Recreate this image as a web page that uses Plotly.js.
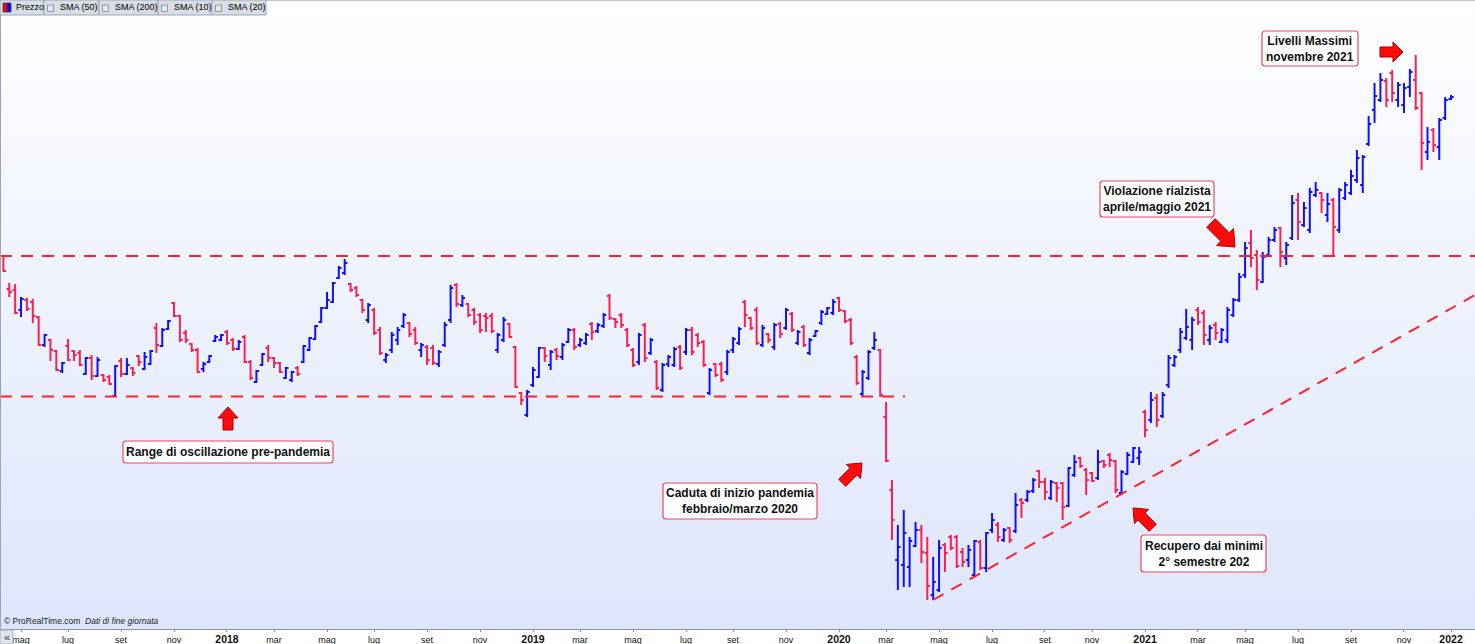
<!DOCTYPE html>
<html><head><meta charset="utf-8">
<script src="https://cdn.plot.ly/plotly-3.0.1.min.js"></script>
<style>
html,body{margin:0;padding:0;background:#fff;overflow:hidden;}
#wrap{position:relative;width:1475px;height:644px;background:linear-gradient(to bottom,#ffffff 0px,#f3f6fe 200px,#dee6fc 629px,#ffffff 629px,#ffffff 644px);}
#chart{width:1475px;height:644px;}
</style></head><body><div id="wrap"><div id="chart"></div></div>
<script>
// Weekly bars, first week starting 2017-04-10 (arbitrary price units, no y scale shown)
const firstWeek = '2017-04-10';
const open = [
444,411,410,390,400,398,383,355,360,349, 329,354,349,347,326,342,324,325,323,304,
339,326,332,344,331,336,372,354,371,397, 384,367,356,350,331,338,359,360,368,360,
351,363,338,318,335,352,342,337,322,320, 332,338,350,361,378,392,398,422,427,416,
412,400,380,390,370,340,350,360,374,377, 370,350,353,352,336,355,380,415,395,396,
390,385,384,384,350,360,376,353,307,285, 315,323,352,335,350,343,358,370,355,357,
376,369,374,404,381,385,370,350,338,375, 347,338,310,336,335,353,348,370,365,358,
307,336,336,328,350,357,398,382,390,355, 366,353,376,372,386,357,373,347,364,377,
386,387,402,389,380,343,306,322,352,350, 283,210,140,135,133,154,170,147,105,110,
155,163,163,148,140,125,158,132,170,175, 160,172,169,200,200,209,229,218,202,217,
217,194,225,242,230,227,222,239,245,239, 207,226,238,242,288,280,302,284,315,335,
350,362,360,390,387,360,375,358,360,385, 400,425,457,445,418,445,460,472,442,462,
500,475,470,505,507,485,500,470,502,507, 520,515,556,590,600,619,627,600,595,613,
620,607,548,570,553,582,601];
const high = [
445,417,416,403,402,401,384,366,361,350, 338,361,350,350,343,345,343,326,325,335,
342,342,333,345,348,350,377,372,380,398, 385,370,357,352,338,345,365,366,370,362,
360,365,340,330,347,355,343,338,333,329, 334,355,363,375,393,408,418,434,441,417,
414,401,397,392,373,347,368,373,387,378, 373,357,355,355,350,378,415,417,405,397,
392,387,387,387,367,383,377,354,308,310, 333,353,353,350,352,357,372,372,362,367,
378,377,387,406,382,387,372,352,367,377, 362,340,337,345,353,355,372,373,367,360,
332,337,338,350,363,373,400,383,393,375, 367,377,378,392,388,370,375,362,370,390,
393,401,403,390,382,345,330,350,368,351, 298,220,175,190,163,178,175,163,143,160,
157,165,165,152,155,160,160,168,187,178, 172,173,207,202,210,222,230,222,220,218,
218,233,245,243,232,228,250,240,247,240, 230,248,253,253,290,308,306,308,345,345,
372,391,383,393,390,375,378,372,393,402, 427,458,470,450,448,463,473,473,458,505,
507,498,512,518,508,507,502,512,518,530, 550,545,584,617,627,622,630,618,617,631,
645,608,573,572,582,603,605];
const low = [
428,403,386,383,389,377,354,353,339,329, 327,339,339,334,325,320,323,318,315,303,
323,325,324,334,330,335,347,353,370,383, 358,357,348,327,328,337,358,359,355,349,
350,337,320,317,334,338,332,327,321,318, 324,337,349,360,377,391,397,421,425,408,
403,387,377,365,345,337,347,355,372,363, 355,343,335,335,333,353,377,393,393,383,
375,367,368,367,347,358,362,312,295,283, 313,322,338,330,340,340,357,350,353,355,
360,367,372,380,372,372,353,333,335,338, 345,310,308,333,333,330,345,345,353,333,
305,323,318,325,347,355,373,370,355,353, 357,350,362,370,368,355,353,345,363,375,
385,385,388,377,355,315,304,320,350,303, 238,160,110,113,113,153,137,100,100,108,
128,150,132,133,133,123,130,128,167,158, 158,157,167,182,198,207,212,200,200,198,
180,193,223,232,205,218,220,232,233,207, 205,225,237,235,263,277,273,282,312,333,
347,360,350,375,355,355,360,357,357,383, 398,422,433,410,417,443,458,433,435,460,
460,473,467,503,487,478,443,467,500,505, 517,507,554,577,598,593,598,593,587,603,
590,530,540,548,540,580,600];
const close = [
429,408,387,401,391,384,355,365,350,330, 337,340,345,335,342,324,340,320,316,334,
326,335,327,338,343,349,355,370,379,384, 360,360,350,328,336,344,363,365,357,351,
358,338,322,329,346,342,337,328,332,328, 326,354,362,374,392,400,417,432,437,410,
405,390,395,367,347,345,365,370,385,366, 357,355,340,337,348,375,412,396,402,385,
378,370,382,369,365,380,363,313,300,308, 330,352,344,348,344,355,370,353,360,365,
368,375,385,382,378,375,355,335,365,342, 360,312,335,343,351,332,370,348,357,335,
330,325,320,348,361,371,385,372,357,372, 360,375,366,390,370,368,355,360,369,388,
392,398,390,379,357,317,328,348,360,305, 239,180,153,167,159,170,148,114,118,152,
147,152,134,138,150,159,132,167,180,163, 170,160,195,197,208,220,218,208,218,212,
193,232,238,234,220,219,238,235,240,210, 228,245,252,248,270,300,280,305,342,343,
368,373,380,378,365,372,367,370,390,400, 423,452,442,420,443,460,470,448,455,497,
478,492,508,510,500,496,473,510,515,524, 542,543,576,604,620,600,607,615,612,628,
592,557,558,555,580,600,603];

const tickVals = ['2017-05-01','2017-06-26','2017-08-28','2017-10-30','2018-01-01','2018-02-26','2018-04-30','2018-06-25','2018-08-27','2018-10-29','2018-12-31','2019-02-25','2019-04-29','2019-07-01','2019-08-26','2019-10-28','2019-12-30','2020-02-24','2020-04-27','2020-06-29','2020-08-31','2020-10-26','2020-12-28','2021-03-01','2021-04-26','2021-06-28','2021-08-30','2021-11-01','2021-12-27'];
const tickLabels = ['mag','lug','set','nov','2018','mar','mag','lug','set','nov','2019','mar','mag','lug','set','nov','2020','mar','mag','lug','set','nov','2021','mar','mag','lug','set','nov','2022'];

// reference levels (same price units)
const rangeTop = 444;
const rangeBottom = 303.5;
const trendStart = {x:'2020-04-19 19:00', y:100};
const trendEnd = {x:'2022-01-24 12:00', y:405};
const rangeBottomEnd = '2020-03-17 12:00';

const notes = [
  {text:'Range di oscillazione pre-pandemia', box:[123,441,333,463]},
  {text:'Caduta di inizio pandemia<br>febbraio/marzo 2020', box:[663,483,817,519]},
  {text:'Recupero dai minimi<br>2° semestre 202', box:[1141,535,1266,572]},
  {text:'Violazione rialzista<br>aprile/maggio 2021', box:[1100,181,1214,217]},
  {text:'Livelli Massimi<br>novembre 2021', box:[1262,31,1358,66]}
];
const arrows = [
  [228,407,-90,23,11,10,5],
  [862,463,-45,28,12,10,5],
  [1133,508,-135,28,12,10,5],
  [1235,247,45,34,14,12,6],
  [1403,52,0,23,10,10,5]
];
const legendItems = ['Prezzo','SMA (50)','SMA (200)','SMA (10)','SMA (20)'];
const legendCells = [[0,44],[44,99],[99,158],[158,212],[212,266]];

// ---------------------------------------------------------------
const dates = [];
{
  const t0 = Date.parse(firstWeek + 'T00:00:00Z');
  for (let i = 0; i < open.length; i++) dates.push(new Date(t0 + i*7*86400000).toISOString().slice(0,10));
}

const W = 1475, H = 629;
const px = x => x / W, py = y => 1 - y / H;
const P = (x, y) => px(x).toFixed(5) + ',' + py(y).toFixed(5);
function poly(pts){ return 'M' + pts.map(p => P(p[0], p[1])).join(' L') + ' Z'; }
function arrowPath(tx, ty, ang, L, hl, hw, sw){
  const a = ang*Math.PI/180, c = Math.cos(a), s = Math.sin(a);
  const loc = [[0,0],[-hl,-hw],[-hl,-sw],[-L,-sw],[-L,sw],[-hl,sw],[-hl,hw]];
  return poly(loc.map(([u,v]) => [tx + u*c - v*s, ty + u*s + v*c]));
}
function rrect(x0,y0,x1,y1,r){
  return `M${P(x0+r,y0)} L${P(x1-r,y0)} Q${P(x1,y0)} ${P(x1,y0+r)} L${P(x1,y1-r)} Q${P(x1,y1)} ${P(x1-r,y1)} L${P(x0+r,y1)} Q${P(x0,y1)} ${P(x0,y1-r)} L${P(x0,y0+r)} Q${P(x0,y0)} ${P(x0+r,y0)} Z`;
}

const FONT = 'Liberation Sans, Arial, sans-serif';
const dashRed = 'rgb(255,34,40)';
const shapes = [];
const annotations = [];

// dashed guide lines
shapes.push({type:'line', xref:'paper', yref:'y', x0:0, x1:1, y0:rangeTop, y1:rangeTop, line:{color:dashRed, width:2, dash:'12px,9px'}});
shapes.push({type:'line', xref:'x', yref:'y', x0:'2017-04-06', x1:rangeBottomEnd, y0:rangeBottom, y1:rangeBottom, line:{color:dashRed, width:2, dash:'12px,9px'}});
shapes.push({type:'line', xref:'x', yref:'y', x0:trendStart.x, x1:trendEnd.x, y0:trendStart.y, y1:trendEnd.y, line:{color:dashRed, width:2, dash:'12px,9px'}});

// note boxes
notes.forEach(n => {
  const [x0,y0,x1,y1] = n.box;
  shapes.push({type:'path', xref:'paper', yref:'paper', path:rrect(x0,y0,x1,y1,3), fillcolor:'rgba(255,255,255,0.92)', line:{color:'#f0485a', width:1.2}});
  annotations.push({xref:'paper', yref:'paper', x:px((x0+x1)/2), y:py((y0+y1)/2), xanchor:'center', yanchor:'middle', showarrow:false, text:'<b>'+n.text+'</b>', font:{family:FONT, size:12, color:'#111'}, align:'center'});
});
// block arrows
arrows.forEach(a => shapes.push({type:'path', xref:'paper', yref:'paper', path:arrowPath(...a), fillcolor:'#ff0a0a', line:{color:'#a80000', width:1}}));

// frame lines
shapes.push({type:'line', xref:'paper', yref:'paper', x0:px(0.5), x1:px(0.5), y0:py(0), y1:py(629), line:{color:'#9aa4b4', width:1}});
shapes.push({type:'line', xref:'paper', yref:'paper', x0:0, x1:1, y0:py(0.5), y1:py(0.5), line:{color:'#c0c6d2', width:1}});

// legend strip
legendCells.forEach((c, i) => {
  shapes.push({type:'rect', xref:'paper', yref:'paper', x0:px(c[0]), x1:px(c[1]), y0:py(0), y1:py(15), fillcolor:'#d7dce5', line:{color:'#9ca7b6', width:1}});
  if (i === 0) {
    shapes.push({type:'rect', xref:'paper', yref:'paper', x0:px(3), x1:px(7), y0:py(3), y1:py(12), fillcolor:'#ff0000', line:{width:0}});
    shapes.push({type:'rect', xref:'paper', yref:'paper', x0:px(7), x1:px(11), y0:py(3), y1:py(12), fillcolor:'#0000ff', line:{width:0}});
    shapes.push({type:'rect', xref:'paper', yref:'paper', x0:px(3), x1:px(11), y0:py(3), y1:py(12), fillcolor:'rgba(0,0,0,0)', line:{color:'#404050', width:0.8}});
  } else {
    shapes.push({type:'rect', xref:'paper', yref:'paper', x0:px(c[0]+3.5), x1:px(c[0]+9.5), y0:py(5), y1:py(11.5), fillcolor:'#e4e7ec', line:{color:'#8e98a6', width:1}});
  }
  annotations.push({xref:'paper', yref:'paper', x:px(i === 0 ? 14 : c[0]+14), y:py(7.5), xanchor:'left', yanchor:'middle', showarrow:false, text:legendItems[i], font:{family:FONT, size:9, color:'#000'}});
});

// bottom-left items
annotations.push({xref:'paper', yref:'paper', x:px(2), y:py(621), xanchor:'left', yanchor:'middle', showarrow:false, text:'© ProRealTime.com  <i>Dati di fine giornata</i>', font:{family:FONT, size:8.5, color:'#222'}});
shapes.push({type:'rect', xref:'paper', yref:'paper', x0:0, x1:px(13), y0:py(630), y1:py(644), fillcolor:'#dfe3ea', line:{color:'#aab2be', width:1}});
annotations.push({xref:'paper', yref:'paper', x:px(6.5), y:py(636.5), xanchor:'center', yanchor:'middle', showarrow:false, text:'«', font:{family:FONT, size:11, color:'#333'}});

const tickText = tickLabels.map(t => /^\d{4}$/.test(t) ? '<span style="font-size:10.5px"><b>'+t+'</b></span>' : t);

const trace = {
  type:'ohlc', x:dates, open:open, high:high, low:low, close:close,
  increasing:{line:{color:'#1010ff', width:2}},
  decreasing:{line:{color:'#ff1f4e', width:2}},
  tickwidth:0.45, hoverinfo:'skip', showlegend:false
};

const layout = {
  width:1475, height:644,
  margin:{l:0, r:0, t:0, b:15, pad:0},
  paper_bgcolor:'rgba(0,0,0,0)', plot_bgcolor:'rgba(0,0,0,0)',
  showlegend:false,
  xaxis:{type:'date', range:['2017-04-06','2022-01-24 12:00'], rangeslider:{visible:false},
    tickvals:tickVals, ticktext:tickText, tickfont:{family:FONT, size:9, color:'#111'},
    ticks:'outside', ticklen:2, tickcolor:'#8a96aa', showgrid:false, zeroline:false,
    showline:true, linecolor:'#8796ad', linewidth:1, fixedrange:true},
  yaxis:{range:[71,700], visible:false, showgrid:false, zeroline:false, fixedrange:true},
  shapes:shapes, annotations:annotations
};
Plotly.newPlot('chart', [trace], layout, {displayModeBar:false, staticPlot:true});
</script></body></html>
